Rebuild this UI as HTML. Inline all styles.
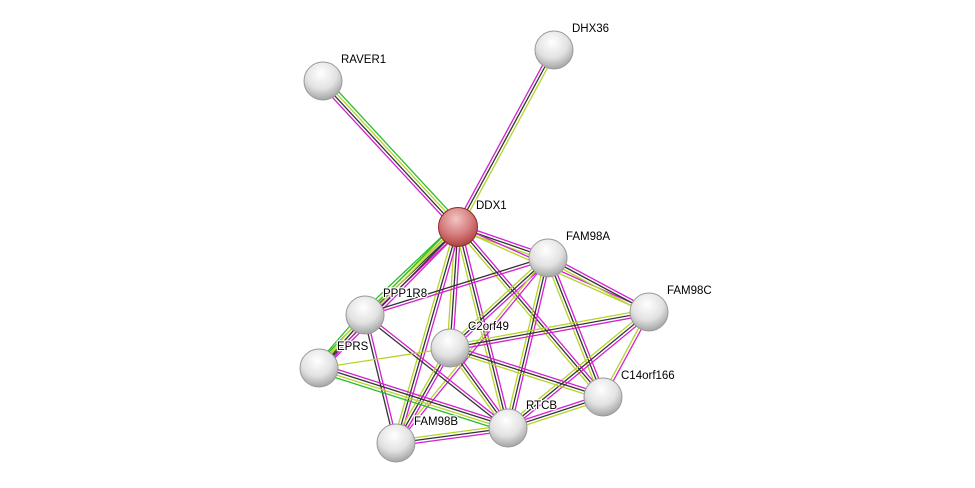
<!DOCTYPE html>
<html><head><meta charset="utf-8"><style>
html,body{margin:0;padding:0;background:#fff;width:975px;height:488px;overflow:hidden}
svg{display:block}
text{font-family:"Liberation Sans",sans-serif;font-size:11.5px;fill:#000;stroke:#fff;stroke-width:2.5px;paint-order:stroke;stroke-linejoin:round}
</style></head><body>
<svg id="s" width="975" height="488" viewBox="0 0 975 488">
<defs>
<radialGradient id="g" cx="0.45" cy="0.3" r="0.75">
<stop offset="0" stop-color="#ffffff"/><stop offset="0.55" stop-color="#e2e2e2"/><stop offset="1" stop-color="#9a9a9a"/>
</radialGradient>
<radialGradient id="r" cx="0.45" cy="0.3" r="0.75">
<stop offset="0" stop-color="#f2c4c4"/><stop offset="0.55" stop-color="#d47a7a"/><stop offset="1" stop-color="#a83838"/>
</radialGradient>
</defs>
<g id="edges"></g>
<g id="nodes"></g>
<text x="341" y="63">RAVER1</text>
<text x="572" y="32">DHX36</text>
<text x="476" y="209">DDX1</text>
<text x="566" y="240">FAM98A</text>
<text x="667" y="294">FAM98C</text>
<text x="383" y="297">PPP1R8</text>
<text x="468" y="330">C2orf49</text>
<text x="337" y="350">EPRS</text>
<text x="621" y="379">C14orf166</text>
<text x="526" y="409">RTCB</text>
<text x="414" y="425">FAM98B</text>
</svg>
<script>
var N={RAVER1:[323,81],DHX36:[554,50],DDX1:[458,227],FAM98A:[548,258],FAM98C:[649,312],PPP1R8:[365,315],C2orf49:[450,348],EPRS:[319,368],C14orf166:[603,397],RTCB:[508,428],FAM98B:[396,443]};
var M="#d21fd2",K="#333",Y="#b5d42a",G="#2dbb2d";
var E=[["DDX1","RAVER1",[M,K,Y,G]],["DDX1","DHX36",[M,K,Y]],
["DDX1","FAM98A",[M,K,Y]],["DDX1","FAM98C",[M,Y]],["DDX1","PPP1R8",[M,K,Y,G]],["DDX1","EPRS",[M,K,Y,G]],
["DDX1","C2orf49",[M,K,Y]],["DDX1","RTCB",[M,K,Y]],["DDX1","FAM98B",[M,K,Y]],["DDX1","C14orf166",[M,K,Y]],
["FAM98A","PPP1R8",[M,K]],["FAM98A","C2orf49",[M,K,Y]],["FAM98A","RTCB",[M,K,Y]],["FAM98A","C14orf166",[M,K,Y]],
["FAM98A","FAM98C",[M,K,Y]],["FAM98A","FAM98B",[M,Y]],
["FAM98C","C2orf49",[M,K,Y]],["FAM98C","RTCB",[M,K,Y]],["FAM98C","C14orf166",[M,Y]],
["PPP1R8","EPRS",[M,K,Y,G]],["PPP1R8","RTCB",[M,K]],["PPP1R8","FAM98B",[M,K]],
["C2orf49","EPRS",[Y]],["C2orf49","C14orf166",[M,K,Y]],["C2orf49","RTCB",[M,K,Y]],["C2orf49","FAM98B",[M,K,Y]],
["EPRS","RTCB",[M,K,Y,G]],["RTCB","C14orf166",[M,K,Y]],["RTCB","FAM98B",[M,K,Y]]];
var ns="http://www.w3.org/2000/svg",eg=document.getElementById("edges"),ng=document.getElementById("nodes");
E.forEach(function(e){var a=N[e[0]],b=N[e[1]],dx=b[0]-a[0],dy=b[1]-a[1],L=Math.hypot(dx,dy),px=-dy/L,py=dx/L,n=e[2].length;
e[2].forEach(function(c,i){var o=(i-(n-1)/2)*2.8,l=document.createElementNS(ns,"line");
l.setAttribute("x1",a[0]+px*o);l.setAttribute("y1",a[1]+py*o);l.setAttribute("x2",b[0]+px*o);l.setAttribute("y2",b[1]+py*o);
l.setAttribute("stroke",c);l.setAttribute("stroke-width","1.3");eg.appendChild(l);});});
for(var k in N){var p=N[k],c=document.createElementNS(ns,"circle");c.setAttribute("cx",p[0]);c.setAttribute("cy",p[1]);c.setAttribute("r",k=="DDX1"?19.5:19);
c.setAttribute("fill",k=="DDX1"?"url(#r)":"url(#g)");c.setAttribute("stroke",k=="DDX1"?"#8a2a2a":"#999");c.setAttribute("stroke-width","1");ng.appendChild(c);}
</script>
</body></html>
